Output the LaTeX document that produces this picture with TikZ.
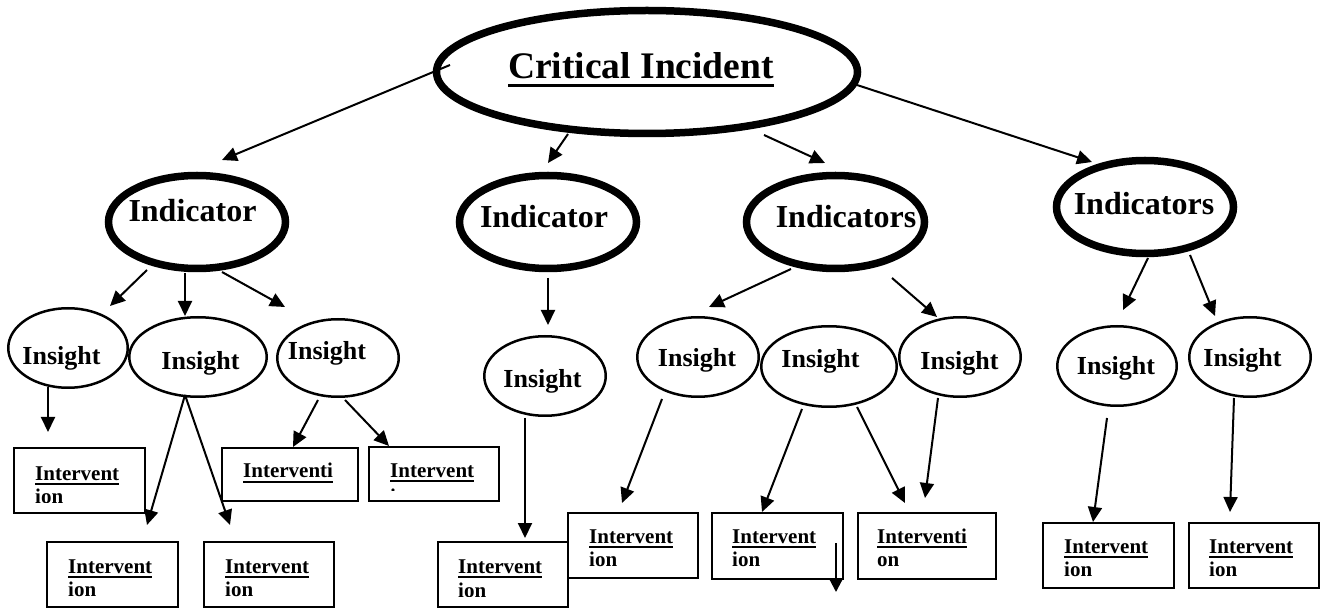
\documentclass[tikz,border=0pt]{standalone}
\usepackage{fontspec}
\setmainfont{Liberation Serif}
\usetikzlibrary{arrows.meta,shapes.geometric,calc,fit}

% underlined word with a rule that scales with the font
\newsavebox\ulwbox
\newcommand\ulword[1]{\sbox\ulwbox{#1}\rlap{\rule[-0.22em]{\wd\ulwbox}{0.09em}}\usebox\ulwbox}

\tikzset{
  thickell/.style={ellipse, draw, line width=7.5pt, inner sep=0pt, outer sep=0pt},
  thinell/.style={ellipse, draw, line width=2.5pt, inner sep=0pt, outer sep=0pt,
                  minimum width=119.5pt, minimum height=79.5pt},
  ivrect/.style={rectangle, draw, line width=2pt, inner sep=0pt, outer sep=0pt},
  titletext/.style={anchor=base, inner sep=0pt, font=\fontsize{37.5}{40}\selectfont\bfseries},
  indtext/.style={anchor=base, inner sep=0pt, font=\fontsize{32}{34}\selectfont\bfseries},
  instext/.style={anchor=base, inner sep=0pt, font=\fontsize{26}{28}\selectfont\bfseries},
  ivtext/.style={anchor=base west, inner sep=0pt, font=\fontsize{21}{23.5}\selectfont\bfseries},
  arr/.style={-{Triangle[length=15pt,width=14pt]}, line width=2pt},
  smallarr/.style={-{Triangle[length=12pt,width=12pt]}, line width=2pt}
}

% intervention box: name, left, top, right, bottom, text x, baseline, line 1, line 2
\newcommand\ivbox[9]{%
  \node[ivrect, fit={(#2,#3) (#4,#5)}] (#1) {};
  \begin{scope}
    \clip (#1.north west) rectangle ([yshift=11pt]#1.south east);
    \node[ivtext] (#1-t) at (#6,#7) {\vtop{\hbox{\ulword{#8}}\hbox{#9}}};
  \end{scope}}

\begin{document}
\begin{tikzpicture}[x=1pt, y=-1pt]
  \useasboundingbox (0,0) rectangle (1323,609);

  % root
  \node[thickell, minimum width=421pt, minimum height=123pt] (main) at (647,72) {};
  \node[titletext] (main-t) at (641,79) {\ulword{Critical Incident}};

  % indicators
  \node[thickell, minimum width=177pt, minimum height=93pt] (ind1) at (197,222) {};
  \node[thickell, minimum width=177pt, minimum height=93pt] (ind2) at (548,222) {};
  \node[thickell, minimum width=178pt, minimum height=93pt] (ind3) at (835.5,222) {};
  \node[thickell, minimum width=177pt, minimum height=93pt] (ind4) at (1145,207) {};
  \node[indtext] (ind1-t) at (192.5,222) {Indicator};
  \node[indtext] (ind2-t) at (544,228) {Indicator};
  \node[indtext] (ind3-t) at (846,228) {Indicators};
  \node[indtext] (ind4-t) at (1144,215) {Indicators};

  % insights
  \node[thinell] (insA) at (68,348) {};
  \node[thinell, minimum width=137.5pt] (insB) at (198,357) {};
  \node[thinell, minimum width=121.5pt, minimum height=77.5pt] (insC) at (338,358) {};
  \node[thinell, minimum width=121.5pt] (insD) at (545,376) {};
  \node[thinell, minimum width=121.5pt] (insE) at (698,357) {};
  \node[thinell, minimum width=135.5pt, minimum height=80.5pt] (insF) at (829,366.5) {};
  \node[thinell, minimum width=121.5pt] (insG) at (960,357) {};
  \node[thinell] (insH) at (1117,366) {};
  \node[thinell, minimum width=121.5pt] (insI) at (1250,357) {};
  \node[instext] (insA-t) at (61.5,365) {Insight};
  \node[instext] (insB-t) at (200.5,370) {Insight};
  \node[instext] (insC-t) at (327,360) {Insight};
  \node[instext] (insD-t) at (542.5,388) {Insight};
  \node[instext] (insE-t) at (697,367) {Insight};
  \node[instext] (insF-t) at (820.5,368) {Insight};
  \node[instext] (insG-t) at (959.5,370) {Insight};
  \node[instext] (insH-t) at (1116,375) {Insight};
  \node[instext] (insI-t) at (1242.5,367) {Insight};

  % interventions
  \ivbox{b1}{14}{448}{145}{513}{35}{480}{Intervent}{ion}
  \ivbox{b2}{47}{542}{178}{607}{68}{573}{Intervent}{ion}
  \ivbox{b3}{204}{542}{334}{607}{225}{573}{Intervent}{ion}
  \ivbox{b4}{222}{448}{358}{501}{243}{478}{Interventi}{on}
  \ivbox{b5}{369}{447}{499}{501}{390}{477}{Intervent}{\raisebox{-3pt}{ion}}
  \ivbox{b6}{438}{542}{568}{607}{458}{573.5}{Intervent}{ion}
  \ivbox{b7}{568}{513}{698}{578}{589}{543}{Intervent}{ion}
  \ivbox{b8}{712}{513}{843}{579}{732}{543}{Intervent}{ion}
  \ivbox{b9}{858}{513}{996}{579}{877}{543}{Interventi}{on}
  \ivbox{b10}{1043}{523}{1174}{588}{1064}{553}{Intervent}{ion}
  \ivbox{b11}{1189}{523}{1319}{588}{1209}{553}{Intervent}{ion}

  % root to indicators
  \draw[arr] ($(main)+(-197,-7)$) -- ($(ind1)+(25,-62)$);
  \draw[arr] ($(main)+(-79,62)$)  -- ($(ind2)+(0,-59)$);
  \draw[arr] ($(main)+(117,63)$)  -- ($(ind3)+(-10.5,-59)$);
  \draw[arr] ($(main)+(210,13)$)  -- ($(ind4)+(-53,-45)$);

  % indicators to insights
  \draw[arr] ($(ind1)+(-50,48)$) -- ($(insA)+(42,-42)$);
  \draw[arr] ($(ind1)+(-12,51)$) -- ($(insB)+(-13,-41)$);
  \draw[arr] ($(ind1)+(25,50)$)  -- ($(insC)+(-53,-51)$);
  \draw[arr] ($(ind2)+(0,56)$)   -- ($(insD)+(3,-51)$);
  \draw[arr] ($(ind3)+(-44.5,47)$) -- ($(insE)+(11,-50)$);
  \draw[arr] ($(ind3)+(56.5,56)$)  -- ($(insG)+(-23,-40)$);
  \draw[arr] ($(ind4)+(3,51)$)   -- ($(insH)+(6,-56)$);
  \draw[arr] ($(ind4)+(45,48)$)  -- ($(insI)+(-35,-41)$);

  % insights to interventions
  \draw[arr] ($(insA)+(-20,39)$) -- ($(b1)+(-31.5,-48.5)$);
  \draw[arr] ($(insB)+(-13,38)$) -- ($(b2)+(34.5,-49.5)$);
  \draw[arr] ($(insB)+(-13,38)$) -- ($(b3)+(-39,-49.5)$);
  \draw[arr] ($(insC)+(-20,42)$) -- ($(b4)+(3,-27.5)$);
  \draw[arr] ($(insC)+(7,42)$)   -- ($(b5)+(-45,-28)$);
  \draw[arr] ($(insD)+(-20,42)$) -- ($(b6)+(22,-36.5)$);
  \draw[arr] ($(insE)+(-36,42)$) -- ($(b7)+(-11,-42.5)$);
  \draw[arr] ($(insF)+(-27,42.5)$) -- ($(b8)+(-15.5,-34)$);
  \draw[arr] ($(insF)+(28,40.5)$)  -- ($(b9)+(-22,-43)$);
  \draw[arr] ($(insG)+(-22,41)$) -- ($(b9)+(-2,-48)$);
  \draw[arr] ($(insH)+(-10,52)$) -- ($(b10)+(-15.5,-33.5)$);
  \draw[arr] ($(insI)+(-16,41)$) -- ($(b11)+(-24,-43.5)$);

  % short arrow leaving the box at the bottom
  \coordinate (b8-out) at ($(b8)+(58.5,46)$);
  \draw[smallarr] ($(b8)+(58.5,-3)$) -- (b8-out);
\end{tikzpicture}
\end{document}
